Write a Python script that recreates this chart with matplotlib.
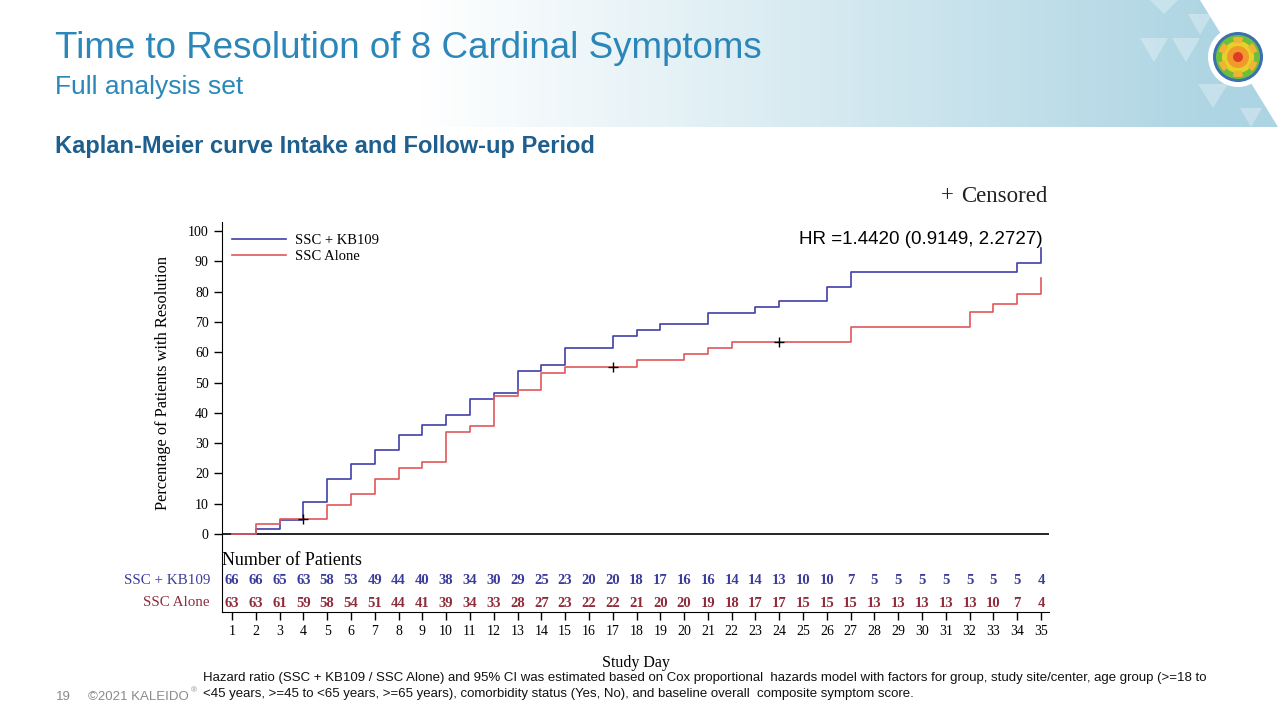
import matplotlib

matplotlib.use("Agg")
import matplotlib.pyplot as plt
import numpy as np
from matplotlib.patches import Circle, Polygon, Wedge

# Kaplan-Meier curves (% of patients with resolution), step changes by study day
kb_days = [1, 2, 3, 4, 5, 6, 7, 8, 9, 10, 11, 12, 13, 14, 15, 17, 18, 19, 21, 23, 24, 26, 27, 34, 35]
kb_pct = [0, 1.5, 4.6, 10.6, 18.3, 23.0, 27.6, 32.6, 35.9, 39.3, 44.7, 46.5, 53.9, 55.7,
          61.5, 65.2, 67.2, 69.2, 72.9, 74.8, 76.8, 81.5, 86.6, 89.3, 94.4]

ssc_days = [1, 2, 3, 5, 6, 7, 8, 9, 10, 11, 12, 13, 14, 15, 18, 20, 21, 22, 27, 32, 33, 34, 35]
ssc_pct = [0, 3.2, 4.8, 9.7, 13.1, 18.2, 21.8, 23.8, 33.6, 35.6, 45.5, 47.4, 53.1, 55.2,
           57.3, 59.4, 61.3, 63.5, 68.3, 73.2, 75.9, 79.3, 84.4]

# censored observations (SSC Alone)
cens_days = [4, 17, 24]
cens_pct = [4.8, 55.2, 63.5]

# number of patients at risk
days = list(range(1, 36))
kb_risk = [66, 66, 65, 63, 58, 53, 49, 44, 40, 38, 34, 30, 29, 25, 23, 20, 20, 18,
           17, 16, 16, 14, 14, 13, 10, 10, 7, 5, 5, 5, 5, 5, 5, 5, 4]
ssc_risk = [63, 63, 61, 59, 58, 54, 51, 44, 41, 39, 34, 33, 28, 27, 23, 22, 22, 21,
            20, 20, 19, 18, 17, 17, 15, 15, 15, 13, 13, 13, 13, 13, 10, 7, 4]

BLUE = "#4040aa"
RED = "#e0585a"
RISK_BLUE = "#3b3b9c"
RISK_RED = "#8e2c3c"
TITLE = "#2b87b9"
SERIF = ["Liberation Serif", "DejaVu Serif"]
SANS = ["Liberation Sans", "DejaVu Sans"]

W, H = 1280, 720
fig = plt.figure(figsize=(12.8, 7.2), dpi=100)

# ---- slide header background ----
bg = fig.add_axes([0, 0, 1, 1], zorder=-5)
bg.set_xlim(0, W)
bg.set_ylim(H, 0)
bg.axis("off")
grad = np.clip((np.linspace(0, W, 640) - 420) / 800, 0, 1)
c0 = np.array([1.0, 1.0, 1.0])
c1 = np.array([0.68, 0.835, 0.89])
img = (c0[None, :] * (1 - grad[:, None]) + c1[None, :] * grad[:, None])[None, :, :]
im = bg.imshow(img, extent=[0, W, 127, 0], aspect="auto", zorder=0)
clip = Polygon([(0, 0), (1200, 0), (1278, 127), (0, 127)], closed=True,
               transform=bg.transData, facecolor="none", edgecolor="none")
bg.add_patch(clip)
im.set_clip_path(clip)
for tri in [[(1150, 0), (1178, 0), (1164, 14)],
            [(1188, 14), (1212, 14), (1200, 35)],
            [(1140, 38), (1168, 38), (1154, 62)],
            [(1172, 38), (1200, 38), (1186, 62)],
            [(1198, 84), (1228, 84), (1213, 108)],
            [(1240, 108), (1262, 108), (1251, 127)]]:
    bg.add_patch(Polygon(tri, closed=True, facecolor="white", alpha=0.3,
                         edgecolor="none", zorder=1))
# logo
bg.add_patch(Circle((1238, 57), 30, facecolor="white", edgecolor="none", zorder=2))
for r, col in [(25, "#3b6fb0"), (22, "#6cbf3c"), (16, "#e8d02a"), (11, "#f09a2a"), (5, "#e23a2a")]:
    bg.add_patch(Circle((1238, 57), r, facecolor=col, edgecolor="none", zorder=3))
for a in range(0, 360, 60):
    bg.add_patch(Wedge((1238, 57), 20, a + 15, a + 45, width=6,
                       facecolor="#f2b233", edgecolor="none", zorder=4))

fig.text(55 / W, 1 - 48 / H, "Time to Resolution of 8 Cardinal Symptoms",
         fontsize=26.5, color=TITLE, family=SANS, va="center", ha="left")
fig.text(55 / W, 1 - 87 / H, "Full analysis set",
         fontsize=19, color=TITLE, family=SANS, va="center", ha="left")
fig.text(55 / W, 1 - 147 / H, "Kaplan-Meier curve Intake and Follow-up Period",
         fontsize=17, color="#1f5f8e", family=SANS, weight="bold", va="center", ha="left")

# ---- KM plot ----
ax = fig.add_axes([222 / W, 1 - 612 / H, (1049 - 222) / W, (612 - 221.7) / H])
ax.set_xlim(1 - 10 / 23.79, 35 + 8 / 23.79)
ax.set_ylim(-25.74, 103.07)

ax.step(kb_days, kb_pct, where="post", color=BLUE, lw=1.2, label="SSC + KB109")
ax.step(ssc_days, ssc_pct, where="post", color=RED, lw=1.2, label="SSC Alone")
ax.plot(cens_days, cens_pct, "+", color="black", ms=7, mew=1.0)
ax.axhline(0, color="black", lw=1.2, zorder=1)

ax.spines["top"].set_visible(False)
ax.spines["right"].set_visible(False)
ax.set_yticks(range(0, 101, 10))
ax.set_xticks(days)
ax.tick_params(axis="both", direction="out", length=6, width=1, labelsize=10, colors="black")
for lab in ax.get_xticklabels() + ax.get_yticklabels():
    lab.set_family(SERIF)
ax.set_ylabel("Percentage of Patients with Resolution", family=SERIF, fontsize=11.8)
ax.yaxis.set_label_coords(-0.062, 1 - (383 - 221.7) / (612 - 221.7))
ax.set_xlabel("Study Day", family=SERIF, fontsize=11.5, labelpad=12)

leg = ax.legend(loc="upper left", bbox_to_anchor=(0.0, 0.995), frameon=False,
                prop={"family": SERIF, "size": 10.5}, handlelength=3.7,
                labelspacing=0.2, handletextpad=0.6, borderaxespad=0.3)

# number at risk
ax.text(0.6, -8.9, "Number of Patients", family=SERIF, fontsize=13, va="center", ha="left")
for d, a, b in zip(days, kb_risk, ssc_risk):
    ax.text(d, -15.5, str(a), family=SERIF, fontsize=10.5, weight="bold",
            color=RISK_BLUE, ha="center", va="center")
    ax.text(d, -22.8, str(b), family=SERIF, fontsize=10.5, weight="bold",
            color=RISK_RED, ha="center", va="center")
fig.text(210 / W, 1 - 581 / H, "SSC + KB109", family=SERIF, fontsize=10.8,
         color=RISK_BLUE, ha="right", va="center")
fig.text(210 / W, 1 - 603 / H, "SSC Alone", family=SERIF, fontsize=10.8,
         color=RISK_RED, ha="right", va="center")

fig.text(947 / W, 1 - 196 / H, "+", family=SERIF, fontsize=16.5,
         ha="center", va="center", color="#222222")
fig.text(1048 / W, 1 - 196 / H, "Censored", family=SERIF, fontsize=16.5,
         ha="right", va="center", color="#222222")
fig.text(1043 / W, 1 - 240 / H, "HR =1.4420 (0.9149, 2.2727)", family=SANS,
         fontsize=13.5, ha="right", va="center", color="black")

# ---- footer ----
foot = ["Liberation Sans", "DejaVu Sans"]
fig.text(203 / W, 1 - 678 / H,
         "Hazard ratio (SSC + KB109 / SSC Alone) and 95% CI was estimated based on Cox proportional  hazards model "
         "with factors for group, study site/center, age group (>=18 to",
         family=foot, fontsize=9.5, ha="left", va="center", color="#111111")
fig.text(203 / W, 1 - 694 / H,
         "<45 years, >=45 to <65 years, >=65 years), comorbidity status (Yes, No), and baseline overall  composite symptom score.",
         family=foot, fontsize=9.5, ha="left", va="center", color="#111111")
fig.text(56 / W, 1 - 697 / H, "19", family=foot, fontsize=9.5, color="#8a8a8a", va="center")
fig.text(88 / W, 1 - 697 / H, "\u00a92021 KALEIDO", family=foot, fontsize=9.5,
         color="#8a8a8a", va="center")
fig.text(191 / W, 1 - 691 / H, "\u00ae", family=foot, fontsize=6, color="#8a8a8a", va="center")

fig.savefig("out.png", dpi=100)
